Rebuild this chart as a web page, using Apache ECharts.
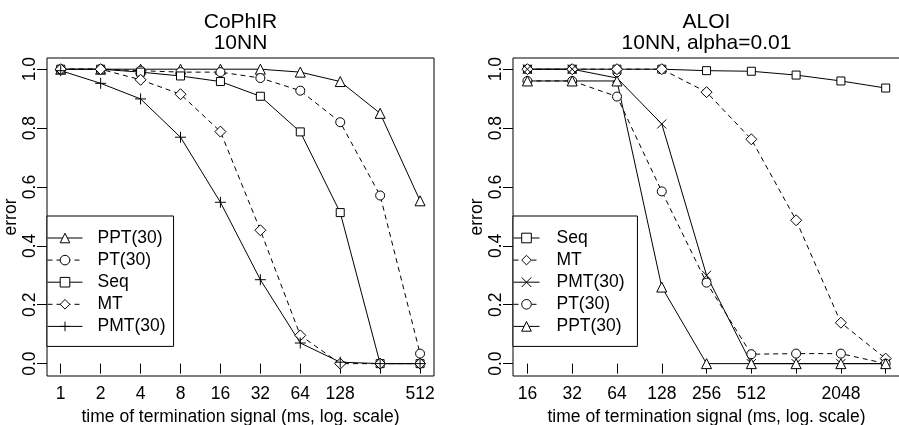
<!DOCTYPE html>
<html>
<head>
<meta charset="utf-8">
<script src="https://cdn.jsdelivr.net/npm/echarts@6/dist/echarts.min.js"></script>
<style>
html,body{margin:0;padding:0;background:#fff;}
#chart{width:899px;height:425px;}
</style>
</head>
<body>
<div id="chart"></div>
<script>
// ---- Data: left panel (CoPhIR, 10NN) ----
const timesL = [1, 2, 4, 8, 16, 32, 64, 128, 256, 512];
const tickLabelsL = [1, 2, 4, 8, 16, 32, 64, 128, 512];
const pptL = [1.0, 1.0, 1.0, 1.0, 1.0, 1.0, 0.99, 0.958, 0.85, 0.553];
const ptL  = [1.0, 1.0, 0.995, 0.99, 0.99, 0.97, 0.927, 0.82, 0.571, 0.034];
const seqL = [1.0, 1.0, 0.99, 0.977, 0.958, 0.908, 0.787, 0.513, 0.0, 0.0];
const mtL  = [1.0, 1.0, 0.964, 0.915, 0.788, 0.453, 0.096, 0.0, 0.0, 0.0];
const pmtL = [0.995, 0.952, 0.899, 0.769, 0.548, 0.285, 0.07, 0.005, 0.0, 0.0];

// ---- Data: right panel (ALOI, 10NN, alpha=0.01) ----
const timesR = [16, 32, 64, 128, 256, 512, 1024, 2048, 4096];
const tickLabelsR = [16, 32, 64, 128, 256, 512, 2048];
const seqR = [1.0, 1.0, 1.0, 1.0, 0.995, 0.993, 0.98, 0.96, 0.936];
const mtR  = [1.0, 1.0, 1.0, 1.0, 0.922, 0.762, 0.487, 0.139, 0.017];
const pmtR = [1.0, 1.0, 0.97, 0.814, 0.3, 0.0, 0.0, 0.0, 0.0];
const ptR  = [0.96, 0.96, 0.907, 0.585, 0.275, 0.032, 0.034, 0.034, 0.0];
const pptR = [0.96, 0.96, 0.96, 0.26, 0.0, 0.0, 0.0, 0.0, 0.0];

const yTicks = [0, 0.2, 0.4, 0.6, 0.8, 1.0];

const FONT = 'Liberation Sans, Arial, Helvetica, sans-serif';
const FS = 17.5;
const PLUS = 'path://M5,0V10M0,5H10';
const CROSS = 'path://M0,0L10,10M10,0L0,10';

function pairs(xs, ys) { return xs.map((x, i) => [x, ys[i]]); }

function mkSeries(name, xs, ys, symbol, dashed, idx, size) {
  return {
    name: name,
    type: 'line',
    xAxisIndex: idx,
    yAxisIndex: idx,
    data: pairs(xs, ys),
    symbol: symbol,
    symbolSize: size || 9,
    showAllSymbol: true,
    animation: false,
    lineStyle: { color: '#000', width: 1, type: dashed ? [5, 4] : 'solid' },
    itemStyle: { color: '#fff', borderColor: '#000', borderWidth: 1 },
    emphasis: { disabled: true }
  };
}

function xAxisCfg(idx, mn, mx, ticks, labels) {
  return {
    type: 'log', logBase: 2, gridIndex: idx, min: mn, max: mx,
    name: 'time of termination signal (ms, log. scale)',
    nameLocation: 'middle', nameGap: 24,
    nameTextStyle: { fontSize: FS, color: '#000', fontFamily: FONT },
    axisLine: { show: false },
    axisTick: { show: true, length: 10, lineStyle: { color: '#000' }, customValues: ticks },
    axisLabel: { show: true, margin: 9, fontSize: FS, color: '#000', fontFamily: FONT,
                 customValues: labels, hideOverlap: false, formatter: v => String(Math.round(v)) },
    splitLine: { show: false }, minorTick: { show: false }, minorSplitLine: { show: false }
  };
}

function yAxisCfg(idx) {
  return {
    type: 'value', gridIndex: idx, min: -0.042, max: 1.038,
    name: 'error', nameLocation: 'middle', nameGap: 26,
    nameTextStyle: { fontSize: FS, color: '#000', fontFamily: FONT },
    axisLine: { show: false },
    axisTick: { show: true, length: 10, lineStyle: { color: '#000' }, customValues: yTicks },
    axisLabel: { show: true, margin: 8, rotate: 90, fontSize: FS, color: '#000', fontFamily: FONT,
                 customValues: yTicks, formatter: v => Number(v).toFixed(1) },
    splitLine: { show: false }
  };
}

function legendCfg(left, names, iconW, textPad) {
  return {
    orient: 'vertical', left: left, top: 216,
    data: names, selectedMode: false,
    itemWidth: iconW, itemHeight: 12, itemGap: 4.1,
    padding: [13, 8, 11, 0],
    borderColor: '#000', borderWidth: 1, borderRadius: 0, backgroundColor: '#fff',
    itemStyle: { borderWidth: 1, borderColor: '#000', color: '#fff' },
    lineStyle: { width: 1, color: '#000' },
    textStyle: { fontSize: FS, lineHeight: 16, color: '#000', fontFamily: FONT, padding: [0, 0, 0, textPad] }
  };
}

const chart = echarts.init(document.getElementById('chart'), null, { renderer: 'canvas' });
chart.setOption({
  backgroundColor: '#fff',
  animation: false,
  grid: [
    { left: 47, top: 58, width: 387, height: 318, containLabel: false, outerBoundsMode: 'none',
      show: true, borderColor: '#000', borderWidth: 1, backgroundColor: 'transparent' },
    { left: 513, top: 58, width: 387, height: 318, containLabel: false, outerBoundsMode: 'none',
      show: true, borderColor: '#000', borderWidth: 1, backgroundColor: 'transparent' }
  ],
  xAxis: [
    xAxisCfg(0, 0.788, 652, timesL, tickLabelsL),
    xAxisCfg(1, 12.8, 5112, timesR, tickLabelsR)
  ],
  yAxis: [yAxisCfg(0), yAxisCfg(1)],
  legend: [
    legendCfg(47, ['PPT(30)', 'PT(30)', 'Seq', 'MT', 'PMT(30)'], 35, 10),
    legendCfg(513, ['Seq', 'MT', 'PMT(30) ', 'PT(30)', 'PPT(30)'], 26, 12)
  ],
  graphic: [
    { type: 'text', x: 240.5, y: 22, style: { text: 'CoPhIR', fill: '#000', font: '21px ' + FONT, textAlign: 'center', textVerticalAlign: 'middle' } },
    { type: 'text', x: 240.5, y: 43, style: { text: '10NN', fill: '#000', font: '21px ' + FONT, textAlign: 'center', textVerticalAlign: 'middle' } },
    { type: 'text', x: 706.5, y: 22, style: { text: 'ALOI', fill: '#000', font: '21px ' + FONT, textAlign: 'center', textVerticalAlign: 'middle' } },
    { type: 'text', x: 706.5, y: 43, style: { text: '10NN, alpha=0.01', fill: '#000', font: '21px ' + FONT, textAlign: 'center', textVerticalAlign: 'middle' } }
  ],
  series: [
    mkSeries('PPT(30)', timesL, pptL, 'triangle', false, 0, 10),
    mkSeries('PT(30)', timesL, ptL, 'circle', true, 0, 9),
    mkSeries('Seq', timesL, seqL, 'rect', false, 0, 8),
    mkSeries('MT', timesL, mtL, 'diamond', true, 0, 11),
    mkSeries('PMT(30)', timesL, pmtL, PLUS, false, 0, 11),
    mkSeries('Seq', timesR, seqR, 'rect', false, 1, 8),
    mkSeries('MT', timesR, mtR, 'diamond', true, 1, 11),
    mkSeries('PMT(30) ', timesR, pmtR, CROSS, false, 1, 9),
    mkSeries('PT(30)', timesR, ptR, 'circle', true, 1, 9),
    mkSeries('PPT(30)', timesR, pptR, 'triangle', false, 1, 10)
  ]
});
</script>
</body>
</html>
